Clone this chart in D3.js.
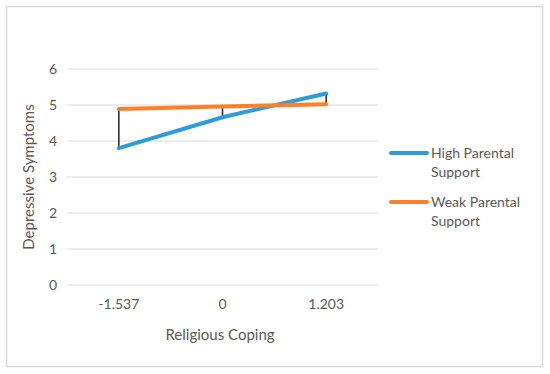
<!DOCTYPE html>
<html><head><meta charset="utf-8">
<script src="https://cdn.jsdelivr.net/npm/d3@7"></script>
<style>body{margin:0;background:#fff}text{font-family:Lato,"Open Sans",sans-serif;fill:#595959}</style>
</head><body><svg id="c" width="550" height="374"></svg>
<script>
const categories = ["-1.537", "0", "1.203"];
const highSupport = [3.80, 4.66, 5.32];
const weakSupport = [4.89, 4.96, 5.02];
const yTicks = [0, 1, 2, 3, 4, 5, 6];
const seriesNames = ["High Parental Support", "Weak Parental Support"];
const colors = ["#2C9CDB", "#FF7F27"];

const svg = d3.select("#c");
svg.append("rect").attr("x", 6.5).attr("y", 6.5).attr("width", 536).attr("height", 360)
  .attr("fill", "#fff").attr("stroke", "#d9d9d9").attr("stroke-width", 1.5);

const x = d3.scaleBand().domain(categories).range([67, 378]);
const y = d3.scaleLinear().domain([0, 6]).range([285, 69]);
const cx = d => x(d) + x.bandwidth() / 2;

// gridlines
svg.append("g").selectAll("line").data(yTicks).join("line")
  .attr("x1", 67).attr("x2", 378).attr("y1", d => y(d)).attr("y2", d => y(d))
  .attr("stroke", "#d9d9d9").attr("stroke-width", 1);

// y axis labels
const yAxis = svg.append("g").attr("transform", "translate(67,0)")
  .call(d3.axisLeft(y).tickValues(yTicks).tickSize(0).tickPadding(10).tickFormat(d3.format("d")));
yAxis.select(".domain").remove();
yAxis.selectAll("text").style("font-size", "14px").style("fill", "#595959").style("font-family", "Lato");

// x axis labels
const xAxis = svg.append("g").attr("transform", "translate(0,285)")
  .call(d3.axisBottom(x).tickSize(0).tickPadding(14));
xAxis.select(".domain").remove();
xAxis.selectAll("text").style("font-size", "14px").style("fill", "#595959").style("font-family", "Lato");

// high-low lines
svg.append("g").selectAll("line").data(categories).join("line")
  .attr("x1", d => cx(d)).attr("x2", d => cx(d))
  .attr("y1", (d, i) => y(Math.max(highSupport[i], weakSupport[i])))
  .attr("y2", (d, i) => y(Math.min(highSupport[i], weakSupport[i])))
  .attr("stroke", "#222").attr("stroke-width", 1.5);

const line = d3.line().x((d, i) => cx(categories[i])).y(d => y(d));
[highSupport, weakSupport].forEach((s, k) => {
  svg.append("path").datum(s).attr("d", line).attr("fill", "none")
    .attr("stroke", colors[k]).attr("stroke-width", 4).attr("stroke-linecap", "round");
});

// axis titles
svg.append("text").attr("x", 220).attr("y", 340).attr("text-anchor", "middle")
  .style("font-size", "15px").text("Religious Coping");
svg.append("text").attr("transform", "translate(34,177) rotate(-90)").attr("text-anchor", "middle")
  .style("font-size", "15px").text("Depressive Symptoms");

// legend
const legY = [153, 202];
seriesNames.forEach((n, k) => {
  const g = svg.append("g");
  g.append("line").attr("x1", 391).attr("x2", 427).attr("y1", legY[k]).attr("y2", legY[k])
    .attr("stroke", colors[k]).attr("stroke-width", 4).attr("stroke-linecap", "round");
  const words = n.split(" ");
  const t = g.append("text").attr("x", 431).attr("y", legY[k] + 5).style("font-size", "14px");
  t.append("tspan").attr("x", 431).text(words.slice(0, 2).join(" "));
  t.append("tspan").attr("x", 431).attr("dy", 19).text(words.slice(2).join(" "));
});
</script></body></html>
